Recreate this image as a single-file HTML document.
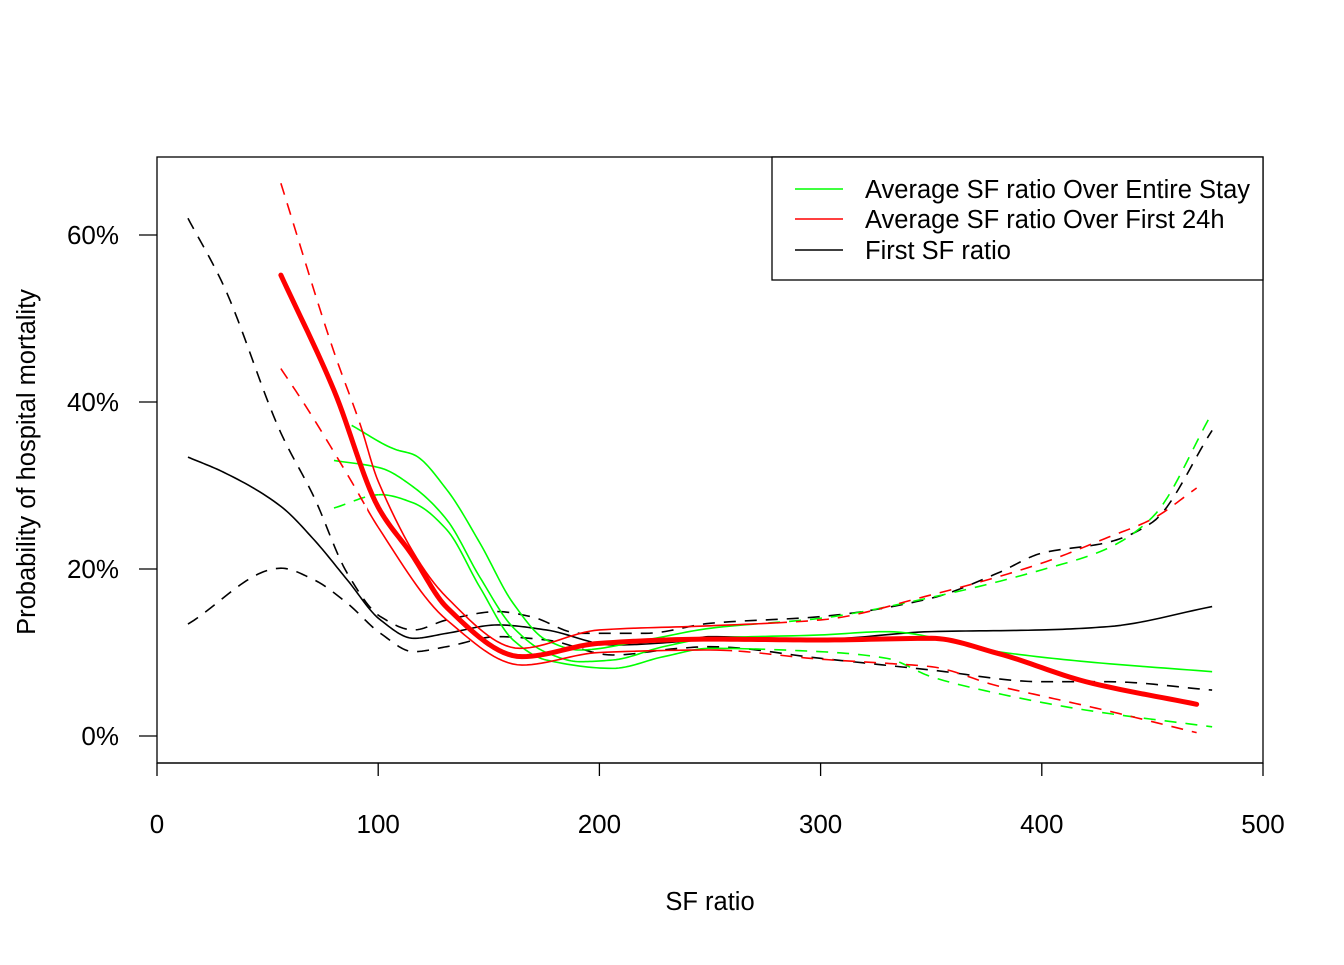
<!DOCTYPE html>
<html><head><meta charset="utf-8"><style>
body{margin:0;background:#fff;}
svg text{font-family:"Liberation Sans",Arial,sans-serif;}
</style></head><body>
<svg id="chart" width="1344" height="960">
<rect x="157" y="157" width="1106" height="606" fill="none" stroke="#000" stroke-width="1.3"/>
<g id="axes"></g>
<g id="series"></g>
<g>
<rect x="772" y="157" width="491" height="123" fill="#fff" stroke="#000" stroke-width="1.3"/>
<line x1="795" y1="189" x2="843" y2="189" stroke="#00ff00" stroke-width="1.5"/>
<text x="865" y="198" font-size="25.5">Average SF ratio Over Entire Stay</text>
<line x1="795" y1="219" x2="843" y2="219" stroke="#ff0000" stroke-width="1.5"/>
<text x="865" y="228" font-size="25.5">Average SF ratio Over First 24h</text>
<line x1="795" y1="250" x2="843" y2="250" stroke="#000" stroke-width="1.5"/>
<text x="865" y="259" font-size="25.5">First SF ratio</text>
</g>
<text x="710" y="910" font-size="25.5" text-anchor="middle">SF ratio</text>
<text x="0" y="0" font-size="25.5" text-anchor="middle" transform="translate(35,462) rotate(-90)">Probability of hospital mortality</text>
</svg>
<script>
const xTicks=[0,100,200,300,400,500];
const yTicks=[0,20,40,60];
const redX=[56,80,100,115,131,165,200,250,300,350,380,420,470];
const redMid=[55.2,41.4,27.4,21.8,15.4,9.5,11.1,11.6,11.5,11.7,9.9,6.5,3.8];
const redHiX=[56,80,92,100,131,164,200,250,300,350,400,430,450,470];
const redHi=[66.2,46,37.2,30.5,16.6,10.5,12.7,13.2,13.9,16.9,20.7,23.8,26,29.7];
const redLoX=[56,67,87,100,131,165,200,250,300,330,350,380,400,430,470];
const redLo=[44,39.6,30.9,25,13.9,8.5,10,10.3,9.2,8.7,8.3,6,4.8,3,0.4];
const grnX=[80,101,116,131,146,161,176,191,206,229,250,300,330,380,420,477];
const grnMid=[33,32.1,29.8,25.9,19,13,10,8.9,9.1,10.7,11.7,12.1,12.5,10.1,8.9,7.7];
const grnHiX=[88,108,116,131,146,161,176,191,221,250,300,350,400,430,450,477];
const grnHi=[37.2,34.3,33.7,29.5,23.1,15.9,11.5,10.3,11.5,12.9,14.1,16.6,19.9,22.5,26.2,38.7];
const grnLoX=[80,101,116,131,146,161,176,206,229,250,300,330,350,380,420,477];
const grnLo=[27.3,28.9,27.9,24.7,17.8,11.5,9.1,8.1,9.5,10.5,10.1,9.3,7.1,5.1,3.1,1.1];
const blkX=[14,30,56,71,86,101,116,131,154,176,206,236,250,300,350,400,430,477];
const blkMid=[33.4,31.6,27.5,23.5,18.7,13.9,11.7,12.3,13.3,12.7,10.9,11.3,11.9,11.6,12.5,12.7,13.1,15.5];
const blkHiX=[14,30,56,71,86,101,116,131,154,169,191,221,250,300,350,380,400,430,450,477];
const blkHi=[62,54,36.3,28.6,19.5,14.3,12.7,13.9,14.9,14.3,12.3,12.3,13.5,14.3,16.5,19.5,21.9,23.2,25.6,36.6];
const blkLoX=[14,56,71,86,101,116,131,154,176,206,236,250,300,350,400,430,477];
const blkLo=[13.4,20.1,18.7,15.9,12.3,10.1,10.7,11.9,11.5,9.7,10.5,10.7,9.3,7.9,6.5,6.5,5.5];

const NS='http://www.w3.org/2000/svg';
const sx=v=>157+v*2.212;
const sy=v=>736-v*8.35;
function mk(tag,attrs,parent){const e=document.createElementNS(NS,tag);for(const k in attrs)e.setAttribute(k,attrs[k]);parent.appendChild(e);return e;}
const axes=document.getElementById('axes');
mk('line',{x1:sx(0),y1:763,x2:sx(500),y2:763,stroke:'#000','stroke-width':1.3},axes);
xTicks.forEach(t=>{
  const l=mk('line',{x1:sx(t),y1:763,x2:sx(t),y2:776,stroke:'#000','stroke-width':1.3},axes);
  
  
  const tx=mk('text',{x:sx(t),y:833,'font-size':26,'text-anchor':'middle'},axes);
  tx.textContent=t;
  
  
});
yTicks.forEach(t=>{
  const l=mk('line',{x1:139,y1:sy(t),x2:157,y2:sy(t),stroke:'#000','stroke-width':1.3},axes);
  
  
  const tx=mk('text',{x:119,y:sy(t)+9,'font-size':26,'text-anchor':'end'},axes);
  tx.textContent=t+'%';
  
  
});
// monotone cubic (Fritsch-Carlson) in data space, rendered as polyline
function pathD(xs,ys){
  const n=xs.length,d=[],m=new Array(n);
  for(let i=0;i<n-1;i++)d.push((ys[i+1]-ys[i])/(xs[i+1]-xs[i]));
  m[0]=d[0];m[n-1]=d[n-2];
  for(let i=1;i<n-1;i++){
    if(d[i-1]*d[i]<=0)m[i]=0;
    else{const w1=2*(xs[i+1]-xs[i])+(xs[i]-xs[i-1]),w2=(xs[i+1]-xs[i])+2*(xs[i]-xs[i-1]);
      m[i]=(w1+w2)/(w1/d[i-1]+w2/d[i]);}
  }
  let s='M'+sx(xs[0])+','+sy(ys[0]);
  for(let i=0;i<n-1;i++){
    const h=xs[i+1]-xs[i];
    for(let k=1;k<=16;k++){
      const t=k/16,t2=t*t,t3=t2*t;
      const y=(2*t3-3*t2+1)*ys[i]+(t3-2*t2+t)*h*m[i]+(-2*t3+3*t2)*ys[i+1]+(t3-t2)*h*m[i+1];
      s+=' L'+sx(xs[i]+t*h).toFixed(2)+','+sy(y).toFixed(2);
    }
  }
  return s;
}
const g=document.getElementById('series');
function draw(xs,ys,color,w,dash,name,solidRange){
  if(solidRange){
    const cp=mk('clipPath',{id:'cs-'+name},g);
    mk('rect',{x:sx(solidRange[0]),y:0,width:sx(solidRange[1])-sx(solidRange[0]),height:960},cp);
    const cd=mk('clipPath',{id:'cd-'+name},g);
    mk('rect',{x:0,y:0,width:sx(solidRange[0]),height:960},cd);
    mk('rect',{x:sx(solidRange[1]),y:0,width:1344,height:960},cd);
    const a=mk('path',{d:pathD(xs,ys),fill:'none',stroke:color,'stroke-width':w,'clip-path':'url(#cs-'+name+')'},g);
    
    
    const b=mk('path',{d:pathD(xs,ys),fill:'none',stroke:color,'stroke-width':w,'stroke-dasharray':'12,9','clip-path':'url(#cd-'+name+')'},g);
    
    
    return;
  }
  const e=mk('path',{d:pathD(xs,ys),fill:'none',stroke:color,'stroke-width':w,'stroke-linejoin':'round'},g);
  if(dash)e.setAttribute('stroke-dasharray','12,9');
  
  
}
draw(blkHiX,blkHi,'#000',1.6,true,'first-sf-upper-ci');
draw(blkLoX,blkLo,'#000',1.6,true,'first-sf-lower-ci');
draw(blkX,blkMid,'#000',1.6,false,'first-sf-line');
draw(grnHiX,grnHi,'#00ff00',1.6,true,'entire-stay-upper-ci',[90,270]);
draw(grnLoX,grnLo,'#00ff00',1.6,true,'entire-stay-lower-ci',[100,270]);
draw(grnX,grnMid,'#00ff00',1.6,false,'entire-stay-line');
draw(redHiX,redHi,'#ff0000',1.6,true,'first-24h-upper-ci',[92,280]);
draw(redLoX,redLo,'#ff0000',1.6,true,'first-24h-lower-ci',[95,260]);
const t=mk('path',{d:pathD(redX,redMid),fill:'none',stroke:'#ff0000','stroke-width':5,'stroke-linecap':'round','stroke-linejoin':'round'},g);


</script>
</body></html>
